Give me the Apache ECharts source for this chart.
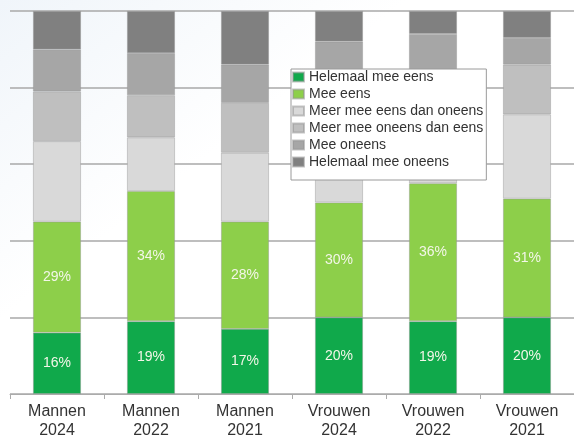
<!DOCTYPE html>
<html>
<head>
<meta charset="utf-8">
<script src="https://cdn.jsdelivr.net/npm/echarts@6/dist/echarts.min.js"></script>
<style>
html,body{margin:0;padding:0;background:#fff;}
#chart{width:574px;height:440px;}
</style>
</head>
<body>
<div id="chart"></div>
<script>
// ---- data ----
const categories = ['Mannen\n2024', 'Mannen\n2022', 'Mannen\n2021', 'Vrouwen\n2024', 'Vrouwen\n2022', 'Vrouwen\n2021'];
const seriesNames = ['Helemaal mee eens', 'Mee eens', 'Meer mee eens dan oneens', 'Meer mee oneens dan eens', 'Mee oneens', 'Helemaal mee oneens'];
const helemaalMeeEens = [16, 19, 17, 20, 19, 20];
const meeEens = [29, 34, 28, 30, 36, 31];
const meerMeeEensDanOneens = [21, 14, 18, 20, 16, 22];
const meerMeeOneensDanEens = [13, 11, 13, 13, 11, 13];
const meeOneens = [11, 11, 10, 9, 12, 7];
const helemaalMeeOneens = [10, 11, 14, 8, 6, 7];
const yTicks = [0, 20, 40, 60, 80, 100];

// ---- styles ----
const colors = ['#10a94b', '#8dcf4a', '#d9d9d9', '#bfbfbf', '#a6a6a6', '#808080'];
const values = [helemaalMeeEens, meeEens, meerMeeEensDanOneens, meerMeeOneensDanEens, meeOneens, helemaalMeeOneens];
const FONT = 'Arial, "Liberation Sans", sans-serif';

const chart = echarts.init(document.getElementById('chart'));
const series = seriesNames.map((name, i) => ({
  name: name,
  type: 'bar',
  stack: 'total',
  barWidth: 48,
  data: values[i],
  itemStyle: { color: colors[i], borderColor: 'rgba(150,150,150,0.55)', borderWidth: 0.8 },
  label: {
    show: i < 2,
    position: 'inside',
    formatter: '{c}%',
    color: '#f3f6e8',
    fontSize: 14,
    fontFamily: FONT
  },
  emphasis: { disabled: true }
}));

chart.setOption({
  animation: false,
  backgroundColor: {
    type: 'linear', x: 0, y: 0, x2: 0.6, y2: 1,
    colorStops: [
      { offset: 0, color: '#f0f5fa' },
      { offset: 0.45, color: '#ffffff' },
      { offset: 1, color: '#ffffff' }
    ]
  },
  grid: { left: 10, right: -3, top: 11, bottom: 42, containLabel: false },
  legend: {
    data: seriesNames,
    orient: 'vertical',
    left: 291,
    top: 69,
    itemWidth: 11,
    itemHeight: 9,
    itemGap: 3,
    padding: [1, 3, 11, 1],
    backgroundColor: '#ffffff',
    borderColor: '#9a9a9a',
    borderWidth: 1,
    borderRadius: 0,
    icon: 'rect',
    textStyle: { fontSize: 14, lineHeight: 14, color: '#333', fontFamily: FONT }
  },
  xAxis: {
    type: 'category',
    data: categories,
    axisLine: { show: true, lineStyle: { color: '#ababab', width: 1 } },
    axisTick: { show: true, length: 5, interval: 0, lineStyle: { color: '#ababab' } },
    axisLabel: { interval: 0, margin: 8, fontSize: 16, lineHeight: 19, color: '#333', fontFamily: FONT }
  },
  yAxis: {
    type: 'value',
    min: yTicks[0],
    max: yTicks[yTicks.length - 1],
    interval: yTicks[1] - yTicks[0],
    axisLabel: { show: false },
    axisLine: { show: false },
    axisTick: { show: false },
    splitLine: { show: true, lineStyle: { color: '#a9a9a9', width: 1.5 } }
  },
  series: series
});
</script>
</body>
</html>
